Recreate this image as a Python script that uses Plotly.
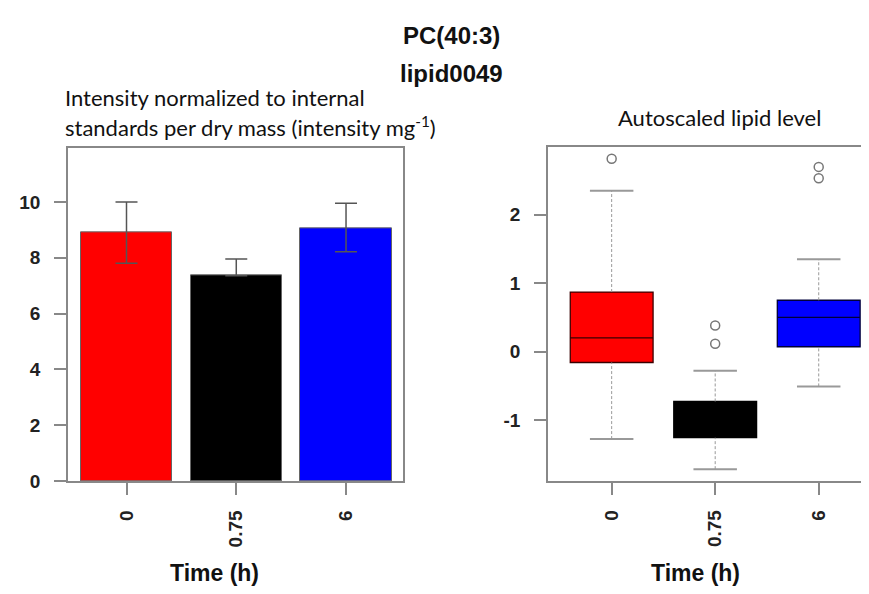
import plotly.graph_objects as go

# ---------------- data ----------------
categories = ["0", "0.75", "6"]
bar_colors = ["#ff0000", "#000000", "#0000ff"]
box_line_colors = ["#3a0000", "#000000", "#00003a"]

# left: mean intensity with error bars
bar_means = [8.90, 7.36, 9.07]
bar_err_plus = [1.10, 0.60, 0.88]
bar_err_minus = [1.10, 0.00, 0.85]

# right: autoscaled box statistics
box_q1 = [-0.16, -1.26, 0.07]
box_median = [0.20, -1.00, 0.50]
box_q3 = [0.87, -0.73, 0.75]
box_low = [-1.28, -1.72, -0.51]
box_high = [2.35, -0.28, 1.35]
outliers = [[2.82], [0.38, 0.115], [2.70, 2.535]]

title_main = "PC(40:3)"
title_sub = "lipid0049"
left_title_1 = "Intensity normalized to internal"
left_title_2 = "standards per dry mass (intensity mg<sup>-1</sup>)"
right_title = "Autoscaled lipid level"
x_title = "Time (h)"
left_yticks = [0, 2, 4, 6, 8, 10]
right_yticks = [-1, 0, 1, 2]
right_yticklabels = ["-1", "0", "1", "2"]

W, H = 869, 594
xpos = list(range(len(categories)))

fig = go.Figure()

# ---------------- left bar chart ----------------
for i in xpos:
    fig.add_trace(go.Bar(
        x=[i], y=[bar_means[i]], width=0.83,
        marker=dict(color=bar_colors[i], line=dict(color="#666666", width=1)),
        error_y=dict(type="data", symmetric=False,
                     array=[bar_err_plus[i]], arrayminus=[bar_err_minus[i]],
                     color="#555555", thickness=1.5, width=11),
        xaxis="x", yaxis="y", showlegend=False,
    ))

# ---------------- right box plot ----------------
for i in xpos:
    fig.add_trace(go.Box(
        x=[i], q1=[box_q1[i]], median=[box_median[i]], q3=[box_q3[i]],
        lowerfence=[box_q1[i]], upperfence=[box_q3[i]],
        width=0.8, whiskerwidth=0,
        fillcolor=bar_colors[i], line=dict(color=box_line_colors[i], width=1.3),
        xaxis="x2", yaxis="y2", showlegend=False, hoverinfo="skip",
    ))
    # whiskers (dashed)
    for lo, hi in [(box_q3[i], box_high[i]), (box_low[i], box_q1[i])]:
        fig.add_trace(go.Scatter(
            x=[i, i], y=[lo, hi], mode="lines",
            line=dict(color="#999999", width=1, dash="3px,2px"),
            xaxis="x2", yaxis="y2", showlegend=False, hoverinfo="skip"))
    # caps
    for v in [box_high[i], box_low[i]]:
        fig.add_trace(go.Scatter(
            x=[i - 0.21, i + 0.21], y=[v, v], mode="lines",
            line=dict(color="#999999", width=2),
            xaxis="x2", yaxis="y2", showlegend=False, hoverinfo="skip"))
    # outliers
    fig.add_trace(go.Scatter(
        x=[i] * len(outliers[i]), y=outliers[i], mode="markers",
        marker=dict(symbol="circle-open", size=9, color="#777777", line=dict(width=1.5)),
        xaxis="x2", yaxis="y2", showlegend=False, hoverinfo="skip"))

tickfont = dict(family="Liberation Sans, Arial, sans-serif", size=19, color="#222222", weight="bold")
axcol = "#888888"

fig.update_layout(
    width=W, height=H,
    margin=dict(l=0, r=0, t=0, b=0),
    paper_bgcolor="white", plot_bgcolor="white",
    showlegend=False, bargap=0,
    xaxis=dict(domain=[60 / W, 395 / W], range=[-0.533, 2.519],
               tickmode="array", tickvals=xpos, ticktext=categories,
               tickangle=-90, tickfont=tickfont, ticks="outside", ticklen=12,
               tickcolor=axcol, tickwidth=1.5, ticklabelstandoff=8,
               showline=True, linecolor=axcol, linewidth=1.5, mirror=True,
               showgrid=False, zeroline=False, fixedrange=True),
    yaxis=dict(domain=[1 - 482 / H, 1 - 143 / H], range=[0, 11.92],
               tickmode="array", tickvals=left_yticks, tickfont=tickfont,
               ticks="outside", ticklen=12, tickcolor=axcol, tickwidth=1.5,
               ticklabelstandoff=10,
               showline=True, linecolor=axcol, linewidth=1.5, mirror=True,
               showgrid=False, zeroline=False, fixedrange=True),
    xaxis2=dict(domain=[540 / W, 1.0], range=[-0.615, 2.563], anchor="y2",
                tickmode="array", tickvals=xpos, ticktext=categories,
                tickangle=-90, tickfont=tickfont, ticks="outside", ticklen=12,
                tickcolor=axcol, tickwidth=1.5, ticklabelstandoff=8,
                showline=True, linecolor=axcol, linewidth=1.5, mirror=True,
                showgrid=False, zeroline=False, fixedrange=True),
    yaxis2=dict(domain=[1 - 481.7 / H, 1 - 141.7 / H], range=[-1.89, 2.99], anchor="x2",
                tickmode="array", tickvals=right_yticks, ticktext=right_yticklabels,
                tickfont=tickfont,
                ticks="outside", ticklen=12, tickcolor=axcol, tickwidth=1.5,
                ticklabelstandoff=10,
                showline=True, linecolor=axcol, linewidth=1.5, mirror=False,
                showgrid=False, zeroline=False, fixedrange=True),
)

title_font = dict(family="Liberation Sans, Arial, sans-serif", size=24, color="#111111", weight="bold")
xt_font = dict(family="Liberation Sans, Arial, sans-serif", size=23, color="#111111", weight="bold")
sub_font = dict(family="Lato, Open Sans, sans-serif", size=22, color="#111111")

def ann(text, x, y, font, xanchor="center"):
    fig.add_annotation(text=text, x=x / W, y=1 - y / H, xref="paper", yref="paper",
                       xanchor=xanchor, yanchor="middle", showarrow=False, font=font)

ann(title_main, 443, 28, title_font)
ann(title_sub, 443, 67, title_font)
ann(left_title_1, 55, 91, sub_font, xanchor="left")
ann(left_title_2, 55, 121, sub_font, xanchor="left")
ann(right_title, 711, 112, sub_font)
ann(x_title, 206, 576, xt_font)
ann(x_title, 687, 576, xt_font)

fig.write_html("out.html")
